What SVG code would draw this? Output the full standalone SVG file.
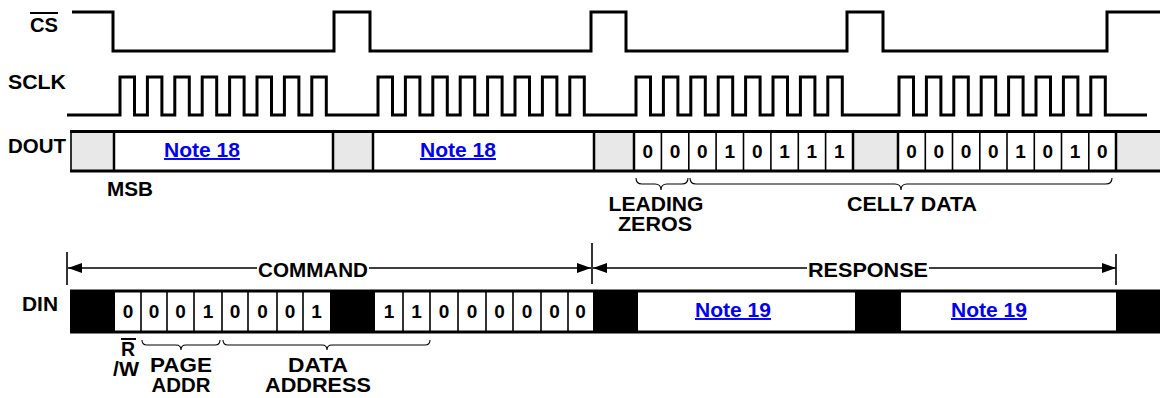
<svg xmlns="http://www.w3.org/2000/svg" width="1160" height="398" viewBox="0 0 1160 398">
<style>
text{font-family:"Liberation Sans",Arial,sans-serif;font-weight:bold;fill:#000}
.lbl{font-size:19.5px}
.dig{font-size:19px;text-anchor:middle}
.mid{text-anchor:middle}
.note{font-size:19.5px;fill:#0000EE;text-decoration:underline;text-anchor:middle}
.wave{fill:none;stroke:#000;stroke-width:3;stroke-linejoin:miter}
.edge{fill:none;stroke:#000;stroke-width:3}
.div{stroke:#000;stroke-width:2.5}
.cell{stroke:#000;stroke-width:1.6}
.gray{fill:#E8E8E8}
.blk{fill:#000}
.dim{stroke:#000;stroke-width:1.6;fill:none}
.brace{fill:none;stroke:#000;stroke-width:1.1}
</style>
<defs>
<marker id="ah" viewBox="0 0 14 10" refX="14" refY="5" markerWidth="14" markerHeight="10" markerUnits="userSpaceOnUse" orient="auto">
<path d="M0,0 L14,5 L0,10 Z" fill="#000"/>
</marker>
</defs>
<rect width="1160" height="398" fill="#fff"/>

<g id="cs">
<text class="lbl" x="30" y="32" textLength="28" lengthAdjust="spacingAndGlyphs">CS</text>
<line x1="30" y1="13" x2="58" y2="13" stroke="#000" stroke-width="2"/>
<path class="wave" d="M72,12 H113 V51 H334 V12 H370 V51 H591 V12 H626 V51 H847 V12 H883 V51 H1107 V12 H1160"/>
</g>

<g id="sclk">
<text class="lbl" x="8" y="89" textLength="58" lengthAdjust="spacingAndGlyphs">SCLK</text>
<path class="wave" d="M67,115 H120 V77 H134.5 V115 H147.4 V77 H161.9 V115 H174.8 V77 H189.3 V115 H202.2 V77 H216.7 V115 H229.6 V77 H244.1 V115 H257 V77 H271.5 V115 H284.4 V77 H298.9 V115 H311.8 V77 H326.3 V115 H378 V77 H392.5 V115 H405.4 V77 H419.9 V115 H432.8 V77 H447.3 V115 H460.2 V77 H474.7 V115 H487.6 V77 H502.1 V115 H515 V77 H529.5 V115 H542.4 V77 H556.9 V115 H569.8 V77 H584.3 V115 H636 V77 H650.5 V115 H663.4 V77 H677.9 V115 H690.8 V77 H705.3 V115 H718.2 V77 H732.7 V115 H745.6 V77 H760.1 V115 H773 V77 H787.5 V115 H800.4 V77 H814.9 V115 H827.8 V77 H842.3 V115 H899 V77 H913.5 V115 H926.4 V77 H940.9 V115 H953.8 V77 H968.3 V115 H981.2 V77 H995.7 V115 H1008.6 V77 H1023.1 V115 H1036 V77 H1050.5 V115 H1063.4 V77 H1077.9 V115 H1090.8 V77 H1105.3 V115 H1147"/>
</g>

<g id="dout">
<text class="lbl" x="8" y="153" textLength="58" lengthAdjust="spacingAndGlyphs">DOUT</text>
<rect class="gray" x="71" y="131" width="43" height="40"/>
<rect class="gray" x="333" y="131" width="40" height="40"/>
<rect class="gray" x="594" y="131" width="40" height="40"/>
<rect class="gray" x="853" y="131" width="45" height="40"/>
<rect class="gray" x="1116" y="131" width="44" height="40"/>
<line class="edge" x1="70" y1="131.5" x2="1160" y2="131.5"/>
<line class="edge" x1="70" y1="171" x2="1160" y2="171"/>
<line class="cell" x1="71" y1="131" x2="71" y2="171"/>
<line class="div" x1="114" y1="131" x2="114" y2="171"/>
<line class="div" x1="333" y1="131" x2="333" y2="171"/>
<line class="div" x1="373" y1="131" x2="373" y2="171"/>
<line class="div" x1="594" y1="131" x2="594" y2="171"/>
<line class="div" x1="634" y1="131" x2="634" y2="171"/>
<line class="div" x1="853" y1="131" x2="853" y2="171"/>
<line class="div" x1="898" y1="131" x2="898" y2="171"/>
<line class="div" x1="1116" y1="131" x2="1116" y2="171"/>
<g class="cell">
<line x1="661.4" y1="131" x2="661.4" y2="171"/><line x1="688.8" y1="131" x2="688.8" y2="171"/><line x1="716.1" y1="131" x2="716.1" y2="171"/><line x1="743.5" y1="131" x2="743.5" y2="171"/><line x1="770.9" y1="131" x2="770.9" y2="171"/><line x1="798.3" y1="131" x2="798.3" y2="171"/><line x1="825.6" y1="131" x2="825.6" y2="171"/>
<line x1="925.3" y1="131" x2="925.3" y2="171"/><line x1="952.5" y1="131" x2="952.5" y2="171"/><line x1="979.8" y1="131" x2="979.8" y2="171"/><line x1="1007" y1="131" x2="1007" y2="171"/><line x1="1034.3" y1="131" x2="1034.3" y2="171"/><line x1="1061.5" y1="131" x2="1061.5" y2="171"/><line x1="1088.8" y1="131" x2="1088.8" y2="171"/>
</g>
<text class="note" x="202" y="157" textLength="76" lengthAdjust="spacingAndGlyphs">Note 18</text>
<text class="note" x="458" y="157" textLength="76" lengthAdjust="spacingAndGlyphs">Note 18</text>
<text class="dig" y="158"><tspan x="647.7">0</tspan><tspan x="675.1">0</tspan><tspan x="702.4">0</tspan><tspan x="729.8">1</tspan><tspan x="757.2">0</tspan><tspan x="784.6">1</tspan><tspan x="811.9">1</tspan><tspan x="839.3">1</tspan></text>
<text class="dig" y="158"><tspan x="911.6">0</tspan><tspan x="938.9">0</tspan><tspan x="966.1">0</tspan><tspan x="993.4">0</tspan><tspan x="1020.6">1</tspan><tspan x="1047.9">0</tspan><tspan x="1075.1">1</tspan><tspan x="1102.4">0</tspan></text>
</g>

<g id="msb"><text class="lbl" x="107" y="196" textLength="46" lengthAdjust="spacingAndGlyphs">MSB</text></g>

<g id="leading-zeros">
<path class="brace" d="M636,178 q0,6 6,6 H655 q6,0 6,6 q0,-6 6,-6 H682 q6,0 6,-6"/>
<text class="lbl mid" x="656" y="211" textLength="95" lengthAdjust="spacingAndGlyphs">LEADING</text>
<text class="lbl mid" x="655" y="231" textLength="74" lengthAdjust="spacingAndGlyphs">ZEROS</text>
</g>

<g id="cell7-data">
<path class="brace" d="M690,178 q0,6 6,6 H895 q6,0 6,6 q0,-6 6,-6 H1106 q6,0 6,-6"/>
<text class="lbl mid" x="912" y="211" textLength="130" lengthAdjust="spacingAndGlyphs">CELL7 DATA</text>
</g>

<g id="connectors">
<line class="dim" x1="67" y1="252" x2="67" y2="285"/>
<line class="dim" x1="592" y1="243" x2="592" y2="284"/>
<line class="dim" x1="1116" y1="254" x2="1116" y2="285"/>
<line class="dim" x1="257" y1="268" x2="68" y2="268" marker-end="url(#ah)"/>
<line class="dim" x1="369" y1="268" x2="591" y2="268" marker-end="url(#ah)"/>
<line class="dim" x1="807" y1="268" x2="593" y2="268" marker-end="url(#ah)"/>
<line class="dim" x1="929" y1="268" x2="1116" y2="268" marker-end="url(#ah)"/>
</g>
<g id="command"><text class="lbl mid" x="313" y="277" textLength="110" lengthAdjust="spacingAndGlyphs">COMMAND</text></g>
<g id="response"><text class="lbl mid" x="868" y="277" textLength="120" lengthAdjust="spacingAndGlyphs">RESPONSE</text></g>

<g id="din">
<text class="lbl" x="22" y="311" textLength="36" lengthAdjust="spacingAndGlyphs">DIN</text>
<rect class="blk" x="70" y="291" width="45" height="41"/>
<rect class="blk" x="330" y="291" width="45" height="41"/>
<rect class="blk" x="593" y="291" width="45" height="41"/>
<rect class="blk" x="855" y="291" width="46" height="41"/>
<rect class="blk" x="1116" y="291" width="44" height="41"/>
<line class="edge" x1="70" y1="291" x2="1160" y2="291"/>
<line class="edge" x1="70" y1="332" x2="1160" y2="332"/>
<g class="cell">
<line x1="141" y1="291" x2="141" y2="332"/><line x1="167" y1="291" x2="167" y2="332"/><line x1="194" y1="291" x2="194" y2="332"/><line x1="222" y1="291" x2="222" y2="332"/><line x1="248" y1="291" x2="248" y2="332"/><line x1="277" y1="291" x2="277" y2="332"/><line x1="303" y1="291" x2="303" y2="332"/>
<line x1="403" y1="291" x2="403" y2="332"/><line x1="430" y1="291" x2="430" y2="332"/><line x1="458" y1="291" x2="458" y2="332"/><line x1="486" y1="291" x2="486" y2="332"/><line x1="513" y1="291" x2="513" y2="332"/><line x1="541" y1="291" x2="541" y2="332"/><line x1="568" y1="291" x2="568" y2="332"/>
</g>
<text class="dig" y="318"><tspan x="128">0</tspan><tspan x="154">0</tspan><tspan x="180.5">0</tspan><tspan x="208">1</tspan><tspan x="235">0</tspan><tspan x="262.5">0</tspan><tspan x="290">0</tspan><tspan x="316.5">1</tspan></text>
<text class="dig" y="318"><tspan x="389">1</tspan><tspan x="416.5">1</tspan><tspan x="444">0</tspan><tspan x="472">0</tspan><tspan x="499.5">0</tspan><tspan x="527">0</tspan><tspan x="554.5">0</tspan><tspan x="580.5">0</tspan></text>
<text class="note" x="733" y="317" textLength="76" lengthAdjust="spacingAndGlyphs">Note 19</text>
<text class="note" x="989" y="317" textLength="76" lengthAdjust="spacingAndGlyphs">Note 19</text>
</g>

<g id="rw">
<text class="lbl mid" x="128" y="356">R</text>
<line x1="121" y1="339" x2="136" y2="339" stroke="#000" stroke-width="2"/>
<text class="lbl mid" x="126" y="376" textLength="26" lengthAdjust="spacingAndGlyphs">/W</text>
</g>

<g id="page-addr">
<path class="brace" d="M142,340 q0,5 5,5 H176 q5,0 5,5 q0,-5 5,-5 H215 q5,0 5,-5"/>
<text class="lbl mid" x="181" y="372" textLength="62" lengthAdjust="spacingAndGlyphs">PAGE</text>
<text class="lbl mid" x="181" y="392" textLength="59" lengthAdjust="spacingAndGlyphs">ADDR</text>
</g>

<g id="data-address">
<path class="brace" d="M223,340 q0,5 5,5 H322 q5,0 5,5 q0,-5 5,-5 H425 q5,0 5,-5"/>
<text class="lbl mid" x="318" y="372" textLength="60" lengthAdjust="spacingAndGlyphs">DATA</text>
<text class="lbl mid" x="318" y="392" textLength="106" lengthAdjust="spacingAndGlyphs">ADDRESS</text>
</g>
</svg>
